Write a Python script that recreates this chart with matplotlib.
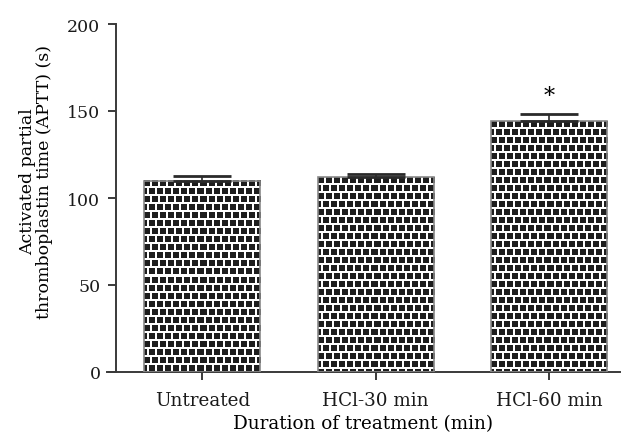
import numpy as np
import matplotlib
matplotlib.use("Agg")
import matplotlib.pyplot as plt

groups = ["Untreated", "HCl-30 min", "HCl-60 min"]
aptt = [110, 112, 144]
aptt_err = [2.5, 2.0, 4.5]
signif = ["", "", "*"]

plt.rcParams['font.family'] = ['DejaVu Serif']
plt.rcParams['font.size'] = 12.5

W, H = 624, 439
fig = plt.figure(figsize=(W / 100, H / 100), dpi=100)
ax = fig.add_axes([107 / W, 66 / H, 513 / W, 348 / H])
ax.set_xlim(-0.55, 2.41)
ax.set_ylim(0, 200)

bar_w = 0.67
x = np.arange(len(groups))
spine_col = "#3a3a3a"


def brick_texture(w_px, h_px, period=8, bw=6, bh=6, shift=3):
    img = np.ones((h_px, w_px))
    for r in range(h_px):
        row = r // period
        if r % period >= bh:
            continue
        off = shift if row % 2 else 0
        for c in range(w_px):
            if (c + off) % period < bw:
                img[r, c] = 0.12
    return img


px_per_x = 513 / (2.41 + 0.55)
px_per_y = 348 / 200.0

bars = ax.bar(x, aptt, width=bar_w, facecolor="none", edgecolor="#8a8a8a",
              linewidth=1.2, zorder=3)
for xi, val in zip(x, aptt):
    tex = brick_texture(int(round(bar_w * px_per_x)), int(round(val * px_per_y)))
    ax.imshow(tex, cmap="gray", vmin=0, vmax=1, aspect="auto",
              interpolation="nearest",
              extent=(xi - bar_w / 2, xi + bar_w / 2, 0, val), zorder=2)

ax.errorbar(x, aptt, yerr=[np.zeros(len(aptt)), aptt_err], fmt="none",
            ecolor="#2a2a2a", elinewidth=1.2, capsize=21, capthick=2, zorder=4)

for xi, val, err, s in zip(x, aptt, aptt_err, signif):
    if s:
        ax.text(xi, val + err + 4, s, ha="center", va="bottom", fontsize=16)

ax.set_xlim(-0.55, 2.41)
ax.set_ylim(0, 200)
ax.set_xticks(x)
ax.set_xticklabels(groups, fontsize=13.2)
ax.set_yticks([0, 50, 100, 150, 200])

for side in ["top", "right"]:
    ax.spines[side].set_visible(False)
ax.spines["left"].set_position(("data", -0.5))
ax.spines["left"].set_bounds(0, 200)
for side in ["left", "bottom"]:
    ax.spines[side].set_color(spine_col)
    ax.spines[side].set_linewidth(1.4)
ax.tick_params(axis="both", colors=spine_col, labelcolor="#1a1a1a",
               width=1.4, length=6, direction="out")
ax.tick_params(axis="y", pad=5)
ax.tick_params(axis="x", pad=8)

fig.text(36 / W, 1 - 182 / H,
         "Activated partial\nthromboplastin time (APTT) (s)",
         rotation=90, ha="center", va="center", multialignment="center",
         linespacing=1.0)
fig.text(0.5 * (107 + 620) / W, 1 - 424 / H, "Duration of treatment (min)",
         ha="center", va="center", fontsize=13.2)

fig.savefig("out.png", dpi=100)
